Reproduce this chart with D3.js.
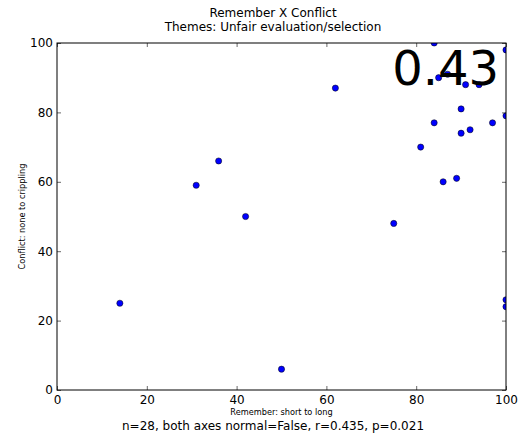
<!DOCTYPE html>
<html>
<head>
<meta charset="utf-8">
<script src="https://cdn.jsdelivr.net/npm/d3@7"></script>
<style>
  body { margin: 0; background: #fff; }
  svg { display: block; font-family: "DejaVu Sans", sans-serif; }
</style>
</head>
<body>
<svg id="chart" width="526" height="435"></svg>
<script>
const rememberValues = [14, 31, 36, 42, 50, 62, 75, 81, 84, 84, 85, 86, 87, 89, 90, 90, 91, 92, 94, 97, 100, 100, 100, 100];
const conflictValues = [25, 59, 66, 50, 6, 87, 48, 70, 100, 77, 90, 60, 91, 61, 81, 74, 88, 75, 88, 77, 98, 79, 26, 24];
const xTicks = [0, 20, 40, 60, 80, 100];
const yTicks = [0, 20, 40, 60, 80, 100];
const titleLines = ["Remember X Conflict", "Themes: Unfair evaluation/selection"];
const xLabel = "Remember: short to long";
const yLabel = "Conflict: none to crippling";
const statsText = "n=28, both axes normal=False, r=0.435, p=0.021";
const bigLabel = "0.43";

const svg = d3.select("#chart");
const margin = { left: 57, right: 506, top: 43, bottom: 390 };
const textCenter = 273;
const x = d3.scaleLinear().domain([0, 100]).range([margin.left, margin.right]);
const y = d3.scaleLinear().domain([0, 100]).range([margin.bottom, margin.top]);

svg.append("defs").append("clipPath").attr("id", "plotclip")
  .append("rect")
  .attr("x", margin.left).attr("y", margin.top)
  .attr("width", margin.right - margin.left).attr("height", margin.bottom - margin.top);

// Titles
titleLines.forEach((t, i) => {
  svg.append("text")
    .attr("x", textCenter)
    .attr("y", 17 + i * 14)
    .attr("text-anchor", "middle")
    .attr("font-size", 12)
    .text(t);
});

// Points
const data = rememberValues.map((v, i) => ({ x: v, y: conflictValues[i] }));
svg.append("g").attr("clip-path", "url(#plotclip)")
  .selectAll("circle").data(data).enter().append("circle")
  .attr("cx", d => x(d.x))
  .attr("cy", d => y(d.y))
  .attr("r", 3.1)
  .attr("fill", "#0000ff")
  .attr("stroke", "#000")
  .attr("stroke-width", 0.5);

// Big label
svg.append("text")
  .attr("x", 499)
  .attr("y", 85)
  .attr("text-anchor", "end")
  .attr("font-size", 48)
  .attr("fill", "#000")
  .text(bigLabel);

// Axes with inward ticks
const tickLen = 4;
const axBottom = d3.axisBottom(x).tickValues(xTicks).tickSize(-tickLen).tickPadding(5).tickFormat(d3.format("d"));
const axTop = d3.axisTop(x).tickValues(xTicks).tickSize(-tickLen).tickFormat("");
const axLeft = d3.axisLeft(y).tickValues(yTicks).tickSize(-tickLen).tickPadding(4).tickFormat(d3.format("d"));
const axRight = d3.axisRight(y).tickValues(yTicks).tickSize(-tickLen).tickFormat("");

function style(g) {
  g.select(".domain").remove();
  g.selectAll(".tick line").attr("stroke", "#000").attr("stroke-width", 0.6);
  g.selectAll(".tick text").attr("font-size", 12).attr("fill", "#000").attr("font-family", "DejaVu Sans, sans-serif");
}
svg.append("g").attr("transform", `translate(0,${margin.bottom})`).call(axBottom).call(style);
svg.append("g").attr("transform", `translate(0,${margin.top})`).call(axTop).call(style);
svg.append("g").attr("transform", `translate(${margin.left},0)`).call(axLeft).call(style);
svg.append("g").attr("transform", `translate(${margin.right},0)`).call(axRight).call(style);

// Frame
svg.append("rect")
  .attr("x", margin.left).attr("y", margin.top)
  .attr("width", margin.right - margin.left).attr("height", margin.bottom - margin.top)
  .attr("fill", "none").attr("stroke", "#000").attr("stroke-width", 1);

// Axis labels
svg.append("text")
  .attr("x", (margin.left + margin.right) / 2)
  .attr("y", 415)
  .attr("text-anchor", "middle")
  .attr("font-size", 8.2)
  .text(xLabel);
svg.append("text")
  .attr("transform", `translate(25,${(margin.top + margin.bottom) / 2}) rotate(-90)`)
  .attr("text-anchor", "middle")
  .attr("font-size", 8.2)
  .text(yLabel);

// Stats line
svg.append("text")
  .attr("x", textCenter)
  .attr("y", 430)
  .attr("text-anchor", "middle")
  .attr("font-size", 12)
  .text(statsText);
</script>
</body>
</html>
